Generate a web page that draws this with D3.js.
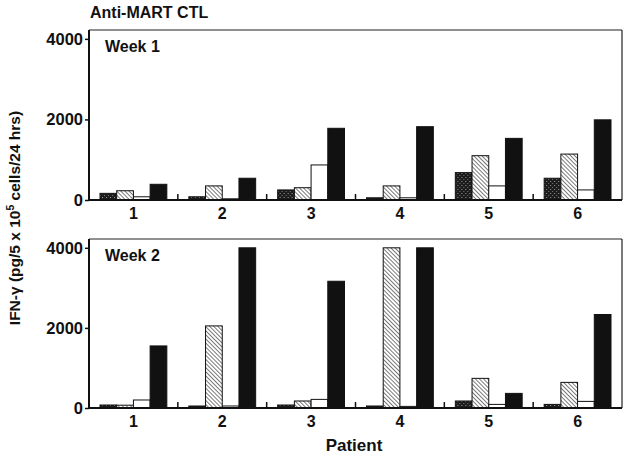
<!DOCTYPE html>
<html>
<head>
<meta charset="utf-8">
<script src="https://cdn.jsdelivr.net/npm/d3@7"></script>
<style>
  body { margin: 0; background: #fff; }
  text { font-family: "Liberation Sans", Arial, Helvetica, sans-serif; font-weight: bold; fill: #111; }
</style>
</head>
<body>
<svg id="chart" width="629" height="457"></svg>
<script>
// Patients on the x axis
const patients = ["1", "2", "3", "4", "5", "6"];
// Four bar series per patient (stippled, hatched, open, solid)
const seriesNames = ["stippled", "hatched", "open", "solid"];

// Week 1 values, IFN-gamma pg / 5x10^5 cells / 24 hrs
const week1Stippled = [165, 80, 250, 55, 680, 540];
const week1Hatched  = [230, 350, 305, 350, 1100, 1140];
const week1Open     = [80, 30, 870, 55, 350, 250];
const week1Solid    = [390, 540, 1780, 1820, 1530, 1990];

// Week 2 values
const week2Stippled = [75, 50, 75, 50, 175, 90];
const week2Hatched  = [70, 2050, 175, 4000, 740, 640];
const week2Open     = [200, 50, 215, 40, 90, 165];
const week2Solid    = [1550, 4000, 3165, 4000, 365, 2335];

const yTicks = [0, 2000, 4000];

const svg = d3.select("#chart");

// patterns
const defs = svg.append("defs");

// "\\\" hatching
const hatch = defs.append("pattern")
    .attr("id", "hatch")
    .attr("patternUnits", "userSpaceOnUse")
    .attr("width", 2.9)
    .attr("height", 2.9)
    .attr("patternTransform", "rotate(-45)");
hatch.append("rect").attr("width", 2.9).attr("height", 2.9).attr("fill", "#fff");
hatch.append("line")
    .attr("x1", 0).attr("y1", 0).attr("x2", 0).attr("y2", 2.9)
    .attr("stroke", "#222").attr("stroke-width", 1.2);

const stipple = defs.append("pattern")
    .attr("id", "stipple")
    .attr("patternUnits", "userSpaceOnUse")
    .attr("width", 4)
    .attr("height", 4);
stipple.append("rect").attr("width", 4).attr("height", 4).attr("fill", "#1c1c1c");
stipple.append("rect").attr("x", 1).attr("y", 1).attr("width", 1).attr("height", 1).attr("fill", "#9a9a9a");
stipple.append("rect").attr("x", 3).attr("y", 3).attr("width", 1).attr("height", 1).attr("fill", "#7a7a7a");

const fills = {
    stippled: "url(#stipple)",
    hatched: "url(#hatch)",
    open: "#fff",
    solid: "#111"
};

const frameLeft = 89;
const frameRight = 622;

const x0 = d3.scaleBand()
    .domain(patients)
    .range([frameLeft, frameRight])
    .paddingInner(0)
    .paddingOuter(0);

const x1 = d3.scaleBand()
    .domain(seriesNames)
    .range([11, x0.bandwidth() - 11])
    .padding(0);

const panels = [
    {
        label: "Week 1", top: 30, bottom: 200,
        series: { stippled: week1Stippled, hatched: week1Hatched, open: week1Open, solid: week1Solid }
    },
    {
        label: "Week 2", top: 239, bottom: 408,
        series: { stippled: week2Stippled, hatched: week2Hatched, open: week2Open, solid: week2Solid }
    }
];

panels.forEach(panel => {
    const y = d3.scaleLinear()
        .domain([0, 4220])
        .range([panel.bottom, panel.top]);

    const g = svg.append("g");

    // bars
    patients.forEach((p, i) => {
        const grp = g.append("g").attr("transform", `translate(${x0(p)},0)`);
        seriesNames.forEach(s => {
            const v = panel.series[s][i];
            grp.append("rect")
                .attr("x", x1(s))
                .attr("y", y(v))
                .attr("width", x1.bandwidth())
                .attr("height", panel.bottom - y(v))
                .attr("fill", fills[s])
                .attr("stroke", "#111")
                .attr("stroke-width", 1);
        });
    });

    // frame: thin top and right
    g.append("line")
        .attr("x1", frameLeft).attr("x2", frameRight)
        .attr("y1", panel.top).attr("y2", panel.top)
        .attr("stroke", "#222").attr("stroke-width", 1.2);
    g.append("line")
        .attr("x1", frameRight).attr("x2", frameRight)
        .attr("y1", panel.top).attr("y2", panel.bottom)
        .attr("stroke", "#222").attr("stroke-width", 1.2);

    // y axis
    const yAxis = g.append("g")
        .attr("transform", `translate(${frameLeft},0)`)
        .call(d3.axisLeft(y).tickValues(yTicks).tickSize(4).tickPadding(2).tickFormat(d3.format("d")));
    yAxis.select(".domain").remove();
    yAxis.selectAll(".tick line").attr("stroke", "#111").attr("stroke-width", 1.5);
    yAxis.selectAll(".tick text")
        .attr("font-size", 16.5)
        .attr("font-family", "Liberation Sans, Arial, sans-serif")
        .attr("font-weight", "bold")
        .attr("fill", "#111");
    g.append("line")
        .attr("x1", frameLeft).attr("x2", frameLeft)
        .attr("y1", panel.top).attr("y2", panel.bottom)
        .attr("stroke", "#111").attr("stroke-width", 2);

    // baseline
    g.append("line")
        .attr("x1", frameLeft).attr("x2", frameRight)
        .attr("y1", panel.bottom).attr("y2", panel.bottom)
        .attr("stroke", "#111").attr("stroke-width", 2);

    // inner ticks between patients
    patients.slice(1).forEach(p => {
        g.append("line")
            .attr("x1", x0(p)).attr("x2", x0(p))
            .attr("y1", panel.bottom).attr("y2", panel.bottom - 6)
            .attr("stroke", "#111").attr("stroke-width", 1.5);
    });

    // category labels
    patients.forEach(p => {
        g.append("text")
            .attr("x", x0(p) + x0.bandwidth() / 2)
            .attr("y", panel.bottom + 19)
            .attr("text-anchor", "middle")
            .attr("font-size", 16)
            .text(p);
    });

    // panel label
    g.append("text")
        .attr("x", frameLeft + 16)
        .attr("y", panel.top + 21.5)
        .attr("font-size", 16)
        .text(panel.label);
});

// title
svg.append("text")
    .attr("x", 90)
    .attr("y", 18)
    .attr("font-size", 16)
    .text("Anti-MART CTL");

// x axis title
svg.append("text")
    .attr("x", 354)
    .attr("y", 451)
    .attr("text-anchor", "middle")
    .attr("font-size", 17)
    .text("Patient");

// y axis title
const yTitle = svg.append("text")
    .attr("transform", "translate(20,218) rotate(-90)")
    .attr("text-anchor", "middle")
    .attr("font-size", 15.5);
yTitle.append("tspan").text("IFN-\u03b3 (pg/5 x 10");
yTitle.append("tspan").attr("dy", -6).attr("font-size", 10.5).text("5");
yTitle.append("tspan").attr("dy", 6).text(" cells/24 hrs)");
</script>
</body>
</html>
